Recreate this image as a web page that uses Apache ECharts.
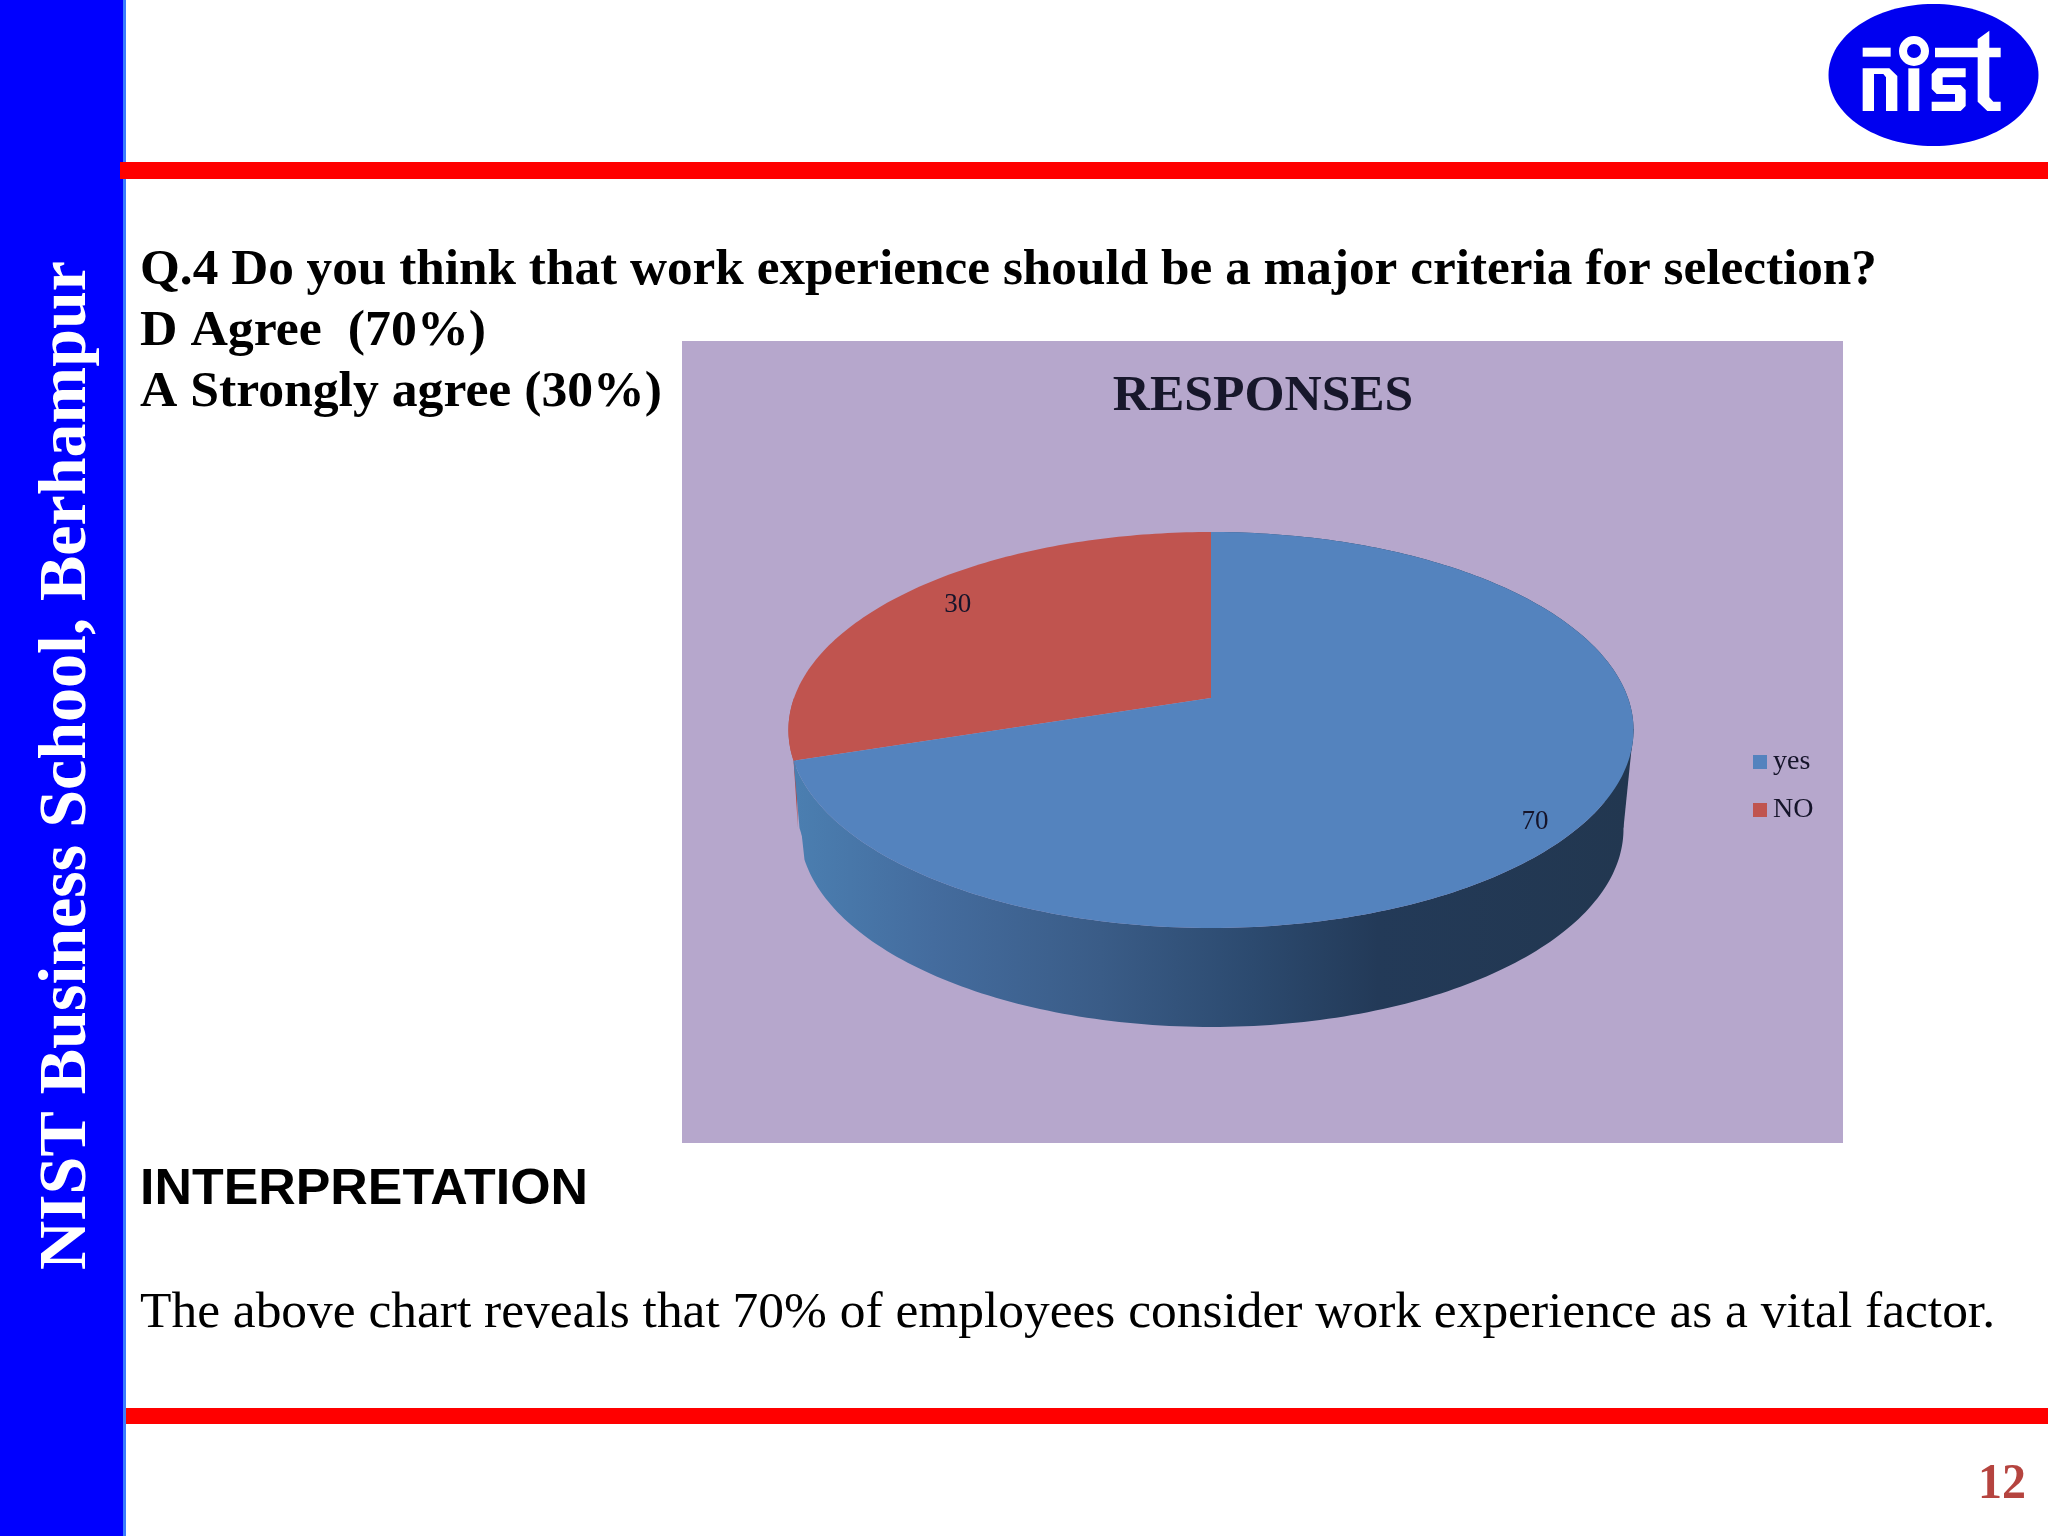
<!DOCTYPE html>
<html><head><meta charset="utf-8">
<style>html,body{margin:0;padding:0;background:#fff}#c{width:2048px;height:1536px}</style>
<script src="https://cdn.jsdelivr.net/npm/echarts@6/dist/echarts.min.js"></script>
</head><body><div id="c"></div>
<script>
// ---- data ----
const categories = ['yes', 'NO'];
const responses = [70, 30];
const chartTitle = 'RESPONSES';
const sideText = 'NIST Business School, Berhampur';
const questionLines = [
  'Q.4 Do you think that work experience should be a major criteria for selection?',
  'D Agree  (70%)',
  'A Strongly agree (30%)'
];
const interpretationHead = 'INTERPRETATION';
const interpretationBody = 'The above chart reveals that 70% of employees consider work experience as a vital factor.';
const pageNumber = '12';

// ---- styling ----
const sliceColors = ['#5483be', '#c0544f'];
const wallColors = ['#2b4a70', '#b24a46'];
const PANEL = '#b6a7cc';
const total = responses.reduce((a, b) => a + b, 0);

// perspective projection of the pie disc (look of the 3-D chart)
const CX = 1211, CY = 698, RX = 417, A = 80, C = -0.1616, DEPTH = 99, BOTTOM_SX = 0.975, BOTTOM_DX = 0.5;
function project(deg, r, bottom) {
  const t = deg * Math.PI / 180, u = r * Math.sin(t), v = -r * Math.cos(t), w = 1 + C * v;
  return [CX + (bottom ? BOTTOM_DX + BOTTOM_SX * RX * u / w : RX * u / w), (A * v + CY) / w + (bottom ? DEPTH : 0)];
}
function arc(a0, a1, bottom) {
  const pts = [], n = Math.max(2, Math.ceil(Math.abs(a1 - a0)));
  for (let i = 0; i <= n; i++) pts.push(project(a0 + (a1 - a0) * i / n, 1, bottom));
  return pts;
}
const wallGradient = new echarts.graphic.LinearGradient(790, 0, 1630, 0, [
  {offset: 0, color: '#4b7fb1'}, {offset: 0.17, color: '#446c9e'}, {offset: 0.37, color: '#3a5c87'},
  {offset: 0.55, color: '#2c4a6f'}, {offset: 0.7, color: '#233a58'}, {offset: 1, color: '#223750'}
], true);
const labelNudge = [[12, 19], [12, -4]];

function renderSlice(params, api) {
  const idx = params.seriesIndex;
  const before = responses.slice(0, idx).reduce((a, b) => a + b, 0);
  const a0 = before / total * 360, a1 = (before + api.value(0)) / total * 360;
  const children = [];
  if (idx === 0) {
    const wallStyle = {fill: wallGradient};
    children.push(
      {type: 'polygon', shape: {points: arc(a0, a1, false).concat(arc(a1, a0, true))}, style: wallStyle},
      // the straight silhouette between the rim and the foot of the disc, both sides
      {type: 'polygon', shape: {points: [project(99, 1, false), project(99, 1, true), project(60, 1, true)]}, style: wallStyle},
      {type: 'polygon', shape: {points: [project(a1, 1, false), project(a1 + 9, 1, true), project(a1 - 8, 1, true)]}, style: wallStyle}
    );
  } else {
    // only a thin edge of this wall shows behind the other one
    const foot = project(a0 + 9, 1, true);
    children.push({type: 'polygon', shape: {points: arc(a0, a0 + 18, false).concat([[foot[0] - 1.5, foot[1]]])},
      style: {fill: wallColors[idx]}});
  }
  const lp = project((a0 + a1) / 2, 0.85, false);
  children.push(
    {type: 'polygon', shape: {points: [[CX, CY]].concat(arc(a0, a1, false))}, style: {fill: sliceColors[idx]}},
    {type: 'text', x: lp[0] + labelNudge[idx][0], y: lp[1] + labelNudge[idx][1],
     style: {text: String(api.value(0)), font: '27px "Liberation Serif"', fill: '#15142a',
             align: 'center', verticalAlign: 'middle'}}
  );
  return {type: 'group', children};
}

// fit a text to the width it has on the slide
const ctx = document.createElement('canvas').getContext('2d');
function fit(text, font, width) { ctx.font = font; return width / ctx.measureText(text).width; }
function slideText(text, font, x, y, width, fill, extra) {
  return Object.assign({type: 'text', x, y, z: -5, scaleX: fit(text, font, width), originX: 0, originY: 0,
    style: {text, font, fill, verticalAlign: 'middle', align: 'left'}}, extra || {});
}
function box(x, y, w, h, fill) { return {type: 'rect', z: -8, shape: {x, y, width: w, height: h}, style: {fill}}; }

// logo shapes, in logo-local units
const L = p => p.map(q => [1800 + q[0] / 3, q[1] / 3]);
const logoPolys = [
  [[188,143],[272,143],[272,170],[188,170]],
  [[188,205],[268,205],[292,228],[292,333],[258,333],[258,232],[250,222],[222,222],[222,333],[188,333]],
  [[325,205],[358,205],[358,333],[325,333]],
  [[412,205],[497,205],[497,232],[428,232],[428,255],[482,255],[497,270],[497,318],[482,333],[395,333],[395,305],[465,305],[465,282],[410,282],[395,267],[395,222]],
  [[405,143],[533,143],[533,118],[568,92],[568,143],[602,143],[602,172],[568,172],[568,292],[580,305],[602,305],[602,333],[562,333],[533,305],[533,172],[405,172]]
];

const FB = 'bold 51px "Liberation Serif"';
const graphics = [
  box(682, 341, 1161, 802, PANEL),
  box(125, 1408, 1923, 16, '#ff0000'),
  box(0, 0, 123, 1536, '#0000ff'),
  box(123, 0, 3, 1536, '#3a7dff'),
  box(120, 162, 1928, 17, '#ff0000'),
  {type: 'ellipse', z: -7, shape: {cx: 1933.5, cy: 75, rx: 105, ry: 71}, style: {fill: '#0000f0'}},
  {type: 'ring', z: -6, shape: {cx: 1914, cy: 51, r: 15, r0: 7}, style: {fill: '#fff'}}
].concat(logoPolys.map(p => ({type: 'polygon', z: -6, shape: {points: L(p)}, style: {fill: '#fff'}})));

graphics.push(
  slideText(questionLines[0], FB, 140, 271, 1737, '#000'),
  slideText(questionLines[1], FB, 140, 332, 346, '#000'),
  slideText(questionLines[2], FB, 140, 393, 522, '#000'),
  slideText(interpretationHead, 'bold 50px "Liberation Sans"', 140, 1190, 448, '#000'),
  slideText(interpretationBody, '51px "Liberation Serif"', 140, 1314, 1855, '#000'),
  slideText(sideText, 'bold 68px "Liberation Serif"', 67, 1270, 1009, '#fff', {rotation: Math.PI / 2}),
  slideText(pageNumber, 'bold 50px "Liberation Serif"', 1978, 1485, 48, '#b5443f')
);

const chart = echarts.init(document.getElementById('c'), null, {renderer: 'canvas'});
chart.setOption({
  animation: false,
  backgroundColor: '#ffffff',
  title: {text: chartTitle, left: 1258, textAlign: 'center', top: 366,
    textStyle: {fontFamily: 'Liberation Serif', fontWeight: 'bold', fontSize: 51.5, color: '#17172b'}},
  legend: {orient: 'vertical', left: 1753, top: 748, padding: 0, itemWidth: 14, itemHeight: 14, itemGap: 20,
    data: categories.map(name => ({name, icon: 'rect'})),
    textStyle: {fontFamily: 'Liberation Serif', fontSize: 28, color: '#15142a', padding: [0, 0, 0, 1]}},
  graphic: {elements: graphics},
  series: categories.map((name, i) => ({
    type: 'custom', name, coordinateSystem: 'none', z: 3 - i, silent: true,
    itemStyle: {color: sliceColors[i]},
    renderItem: renderSlice,
    data: [[responses[i]]]
  }))
});
</script></body></html>
